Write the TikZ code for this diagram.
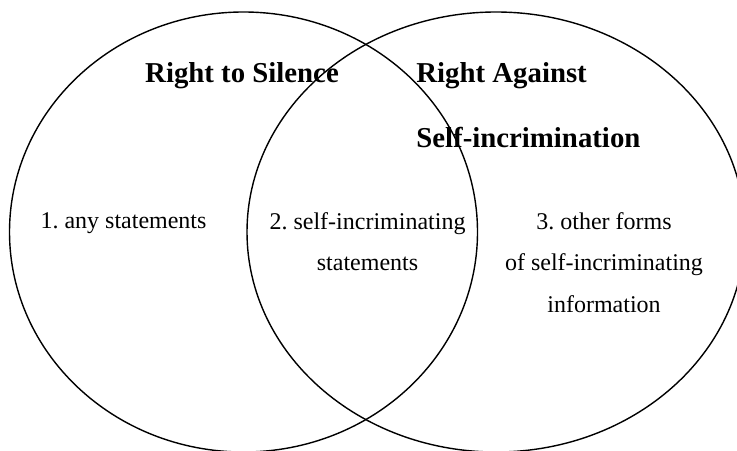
\documentclass[tikz,border=0pt]{standalone}
\usepackage{fontspec}
\setmainfont{Liberation Serif}
\usepackage{tikz}
\frenchspacing

\begin{document}
\begin{tikzpicture}[
    x=0.5pt, y=0.5pt,
    setline/.style={draw,line width=0.7pt},
    titletext/.style={inner sep=0pt,font=\fontsize{14.4}{32.5}\selectfont\bfseries},
    bodytext/.style={inner sep=0pt,align=center,font=\fontsize{12}{20.75}\selectfont}
]
\clip (0,0) rectangle (737,450);

% the two sets
\draw[setline] (243.5,218) ellipse [x radius=234, y radius=220];
\draw[setline] (496,218) ellipse [x radius=249, y radius=220];

% set titles (base = last line)
\node[titletext,anchor=base] (silence) at (242,367) {Right to Silence};
\node[titletext,anchor=base west,align=left] (against) at (416,302) {Right Against\\Self-incrimination};

% regions
\node[bodytext,anchor=base] (anyst) at (123.5,221) {1. any statements};
\node[bodytext,anchor=base] (selfst) at (367.5,179.5) {2. self-incriminating\\statements};
\node[bodytext,anchor=base] (other) at (604,138) {3. other forms\\of self-incriminating\\information};
\end{tikzpicture}
\end{document}
